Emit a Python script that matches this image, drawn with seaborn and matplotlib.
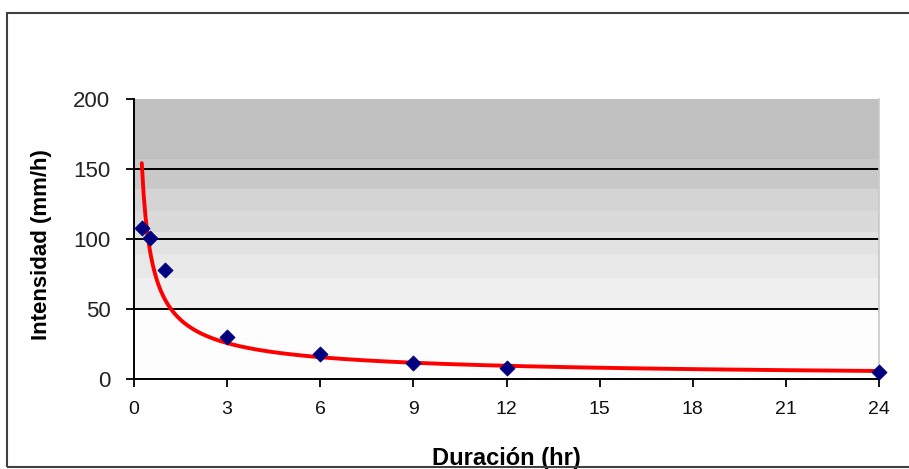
import numpy as np
import pandas as pd
import matplotlib
matplotlib.use("Agg")
import matplotlib.pyplot as plt
import seaborn as sns
from matplotlib.patches import Rectangle

# ---- data ----
durations = [0.25, 0.5, 1, 3, 6, 9, 12, 24]          # hr
intensities = [107.6, 100.9, 77.9, 29.8, 17.6, 11.7, 7.6, 5.2]  # mm/h
x_ticks = [0, 3, 6, 9, 12, 15, 18, 21, 24]
y_ticks = [0, 50, 100, 150, 200]
x_label = "Duración (hr)"
y_label = "Intensidad (mm/h)"

# ---- style constants ----
bands = [(157, 200, "#c0c0c0"), (136, 157, "#c8c8c8"), (120, 136, "#d4d4d4"),
         (105, 120, "#dadada"), (89, 105, "#e2e2e2"), (72, 89, "#e8e8e8"),
         (50, 72, "#f0f0f0"), (0, 50, "#fdfdfd")]

sns.set_theme(style="white")
plt.rcParams["font.family"] = ["Liberation Sans", "DejaVu Sans"]

df = pd.DataFrame({"Duracion": durations, "Intensidad": intensities})

# power trendline (Excel-style) fitted to the data
b, lna = np.polyfit(np.log(df["Duracion"]), np.log(df["Intensidad"]), 1)
xf = np.linspace(min(durations), max(durations), 400)
fit = pd.DataFrame({"x": xf, "y": np.exp(lna) * xf ** b})

W, H = 909, 469
fig = plt.figure(figsize=(W / 100, H / 100), dpi=100)
fig.patch.set_facecolor("white")
ax = fig.add_axes([134 / W, (H - 379) / H, (879 - 134) / W, (379 - 99) / H])

for lo, hi, c in bands:
    ax.axhspan(lo, hi, color=c, zorder=0, lw=0)

for g in y_ticks[1:-1]:
    ax.axhline(g, color="black", lw=1.4, zorder=1)

sns.lineplot(data=fit, x="x", y="y", ax=ax, color="#ff0000", lw=2.8, zorder=3)
sns.scatterplot(data=df, x="Duracion", y="Intensidad", ax=ax, marker="D",
                color="#000080", s=60, edgecolor="#000080", linewidth=0.5,
                zorder=4, clip_on=False)

ax.set_xlim(0, 24)
ax.set_ylim(0, 200)
ax.set_xticks(x_ticks)
ax.set_yticks(y_ticks)
ax.set_xticklabels([str(t) for t in x_ticks], fontsize=14, color="#111111")
ax.set_yticklabels([str(t) for t in y_ticks], fontsize=16, color="#222222")
ax.tick_params(axis="both", direction="out", length=6, width=1.3, color="black",
               bottom=True, left=True)
ax.tick_params(axis="x", pad=10)
ax.tick_params(axis="y", pad=11)

for s in ["left", "bottom"]:
    ax.spines[s].set_color("black")
    ax.spines[s].set_linewidth(1.4)
ax.spines["right"].set_color("#c8c8c8")
ax.spines["right"].set_linewidth(1.2)
ax.spines["top"].set_visible(False)

ax.set_ylabel(y_label, fontweight="bold", fontsize=16, color="black")
ax.yaxis.set_label_coords((52 - 134) / (879 - 134), 0.48)
ax.set_xlabel(x_label, fontweight="bold", fontsize=17, color="black")
ax.xaxis.set_label_coords(0.5, (379 - 447) / 280)
ax.xaxis.label.set_va("top")

# outer chart border
fig.patches.append(Rectangle((6.5 / W, 2 / H), 1.0, (467 - 13.5) / H,
                             transform=fig.transFigure, fill=False,
                             edgecolor="#404040", lw=1.5, zorder=10))

fig.savefig("out.png", dpi=100)
